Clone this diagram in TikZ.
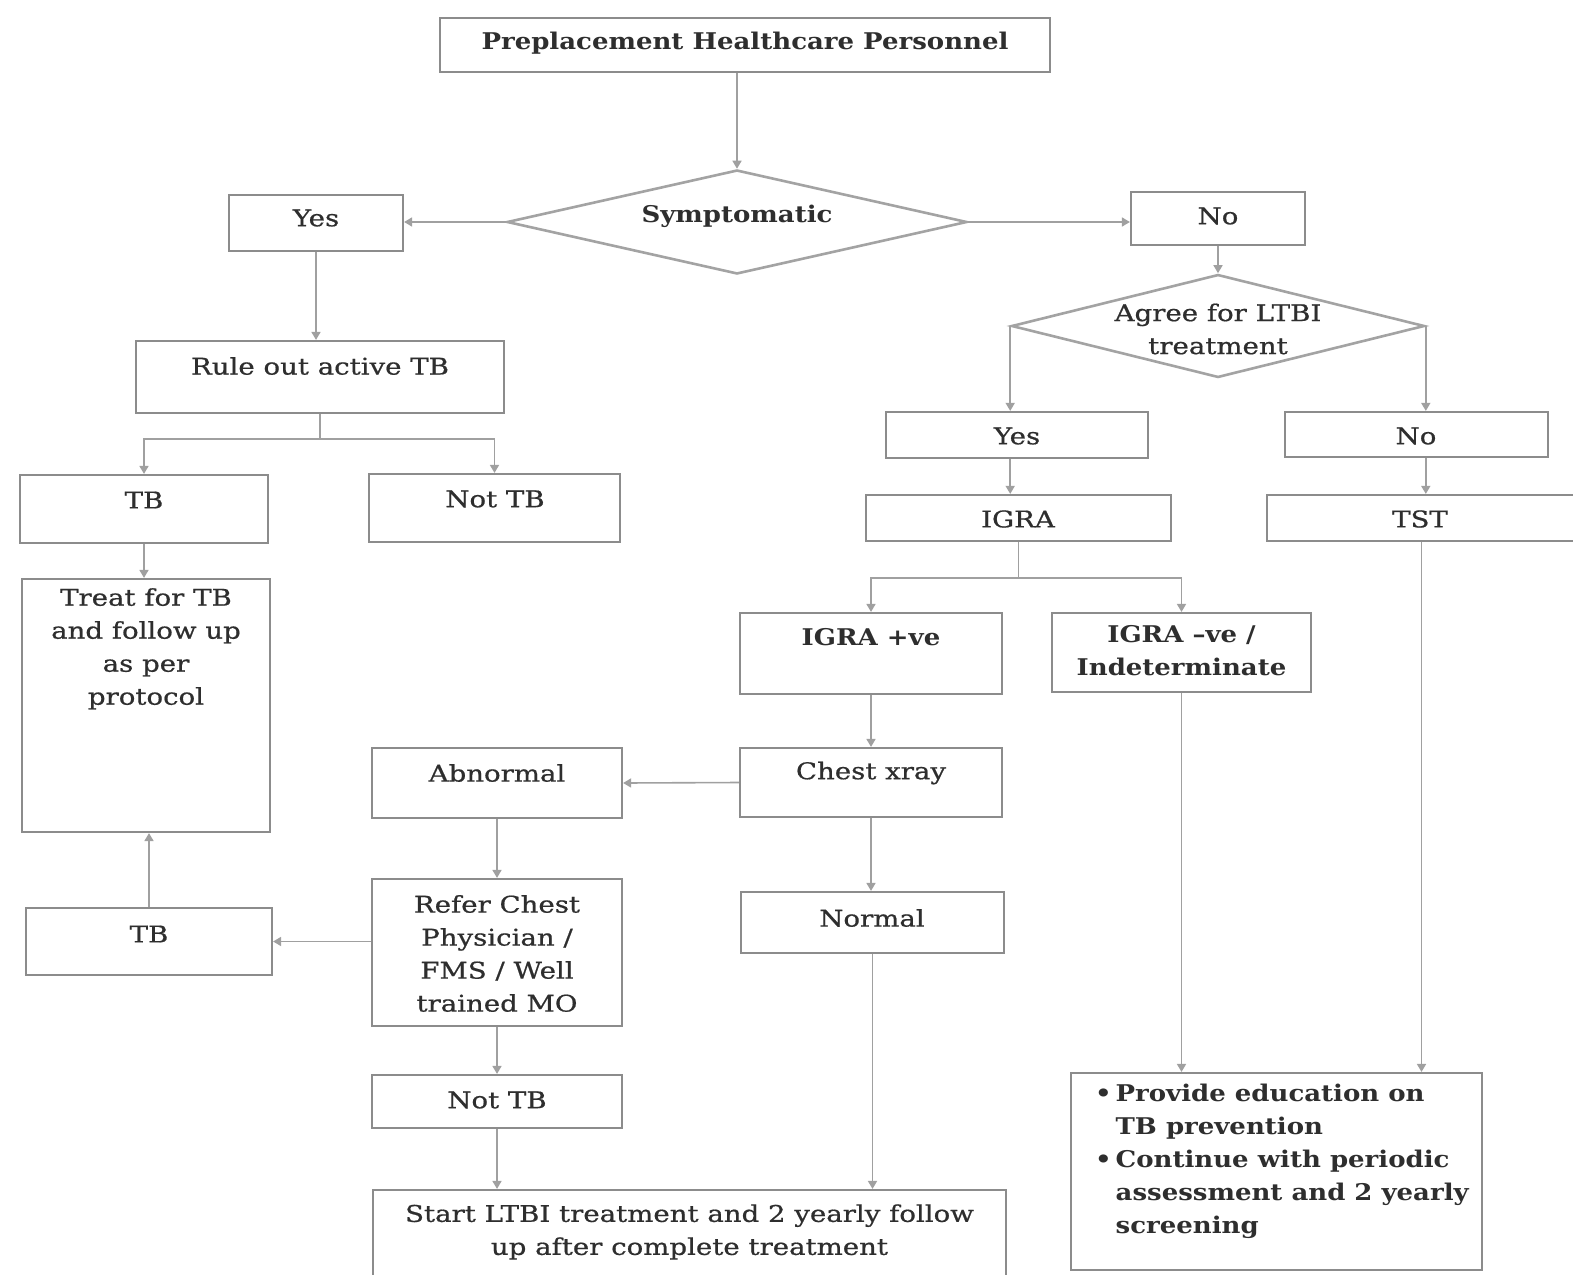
\documentclass[tikz,border=0pt]{standalone}
\usepackage{fontspec}
\setmainfont{DejaVu Serif}[UprightFeatures={FakeStretch=1.2,FakeBold=0.7},BoldFeatures={FakeStretch=1.13}]
\usetikzlibrary{arrows.meta,shapes.geometric,calc}
\definecolor{boxc}{HTML}{8C8C8C}
\definecolor{linec}{HTML}{A0A0A0}
\definecolor{txtc}{HTML}{2E2E2E}
\begin{document}
\begin{tikzpicture}[x=1pt,y=-1pt,
  box/.style={draw=boxc,line width=2.2pt,rectangle,inner sep=0pt},
  dia/.style={draw=boxc!80,line width=2.6pt,diamond,inner sep=0pt},
  txt/.style={text=txtc,align=center,inner sep=0pt,font=\fontsize{23}{33}\selectfont},
  btxt/.style={txt,font=\fontsize{23}{33}\selectfont\bfseries},
  arr/.style={draw=linec,line width=1.6pt,-{Triangle[width=9pt,length=8pt]}},
  ln/.style={draw=linec,line width=1.6pt}]
\useasboundingbox (0,0) rectangle (1573,1274);
\clip (0,0) rectangle (1573,1274);
\fill[white] (0,0) rectangle (1573,1274);

% boxes
\node[box,minimum width=610,minimum height=54] (top) at (745,45) {};
\node[btxt] (topt) at (745,43) {Preplacement Healthcare Personnel};
\node[dia,minimum width=460,minimum height=104] (sym) at (737,222) {};
\node[btxt] (symt) at (737,216) {Symptomatic};
\node[box,minimum width=174,minimum height=56] (yesL) at (316,223) {};
\node[txt] (yesLt) at (316,218) {Yes};
\node[box,minimum width=174,minimum height=53] (noR) at (1218,218.5) {};
\node[txt] (noRt) at (1218,216) {No};
\node[dia,minimum width=413,minimum height=103] (agree) at (1218,326) {};
\node[txt] (agreet) at (1218,329) {Agree for LTBI\\treatment};
\node[box,minimum width=368,minimum height=72] (rule) at (320,377) {};
\node[txt] (rulet) at (320,366) {Rule out active TB};
\node[box,minimum width=248,minimum height=68] (tb1) at (144,509) {};
\node[txt] (tb1t) at (144,500) {TB};
\node[box,minimum width=251,minimum height=68] (nottb1) at (494.5,508) {};
\node[txt] (nottb1t) at (495,499) {Not TB};
\node[box,minimum width=248,minimum height=253] (treat) at (146,705.5) {};
\node[txt,anchor=north] (treatt) at (146,588) {Treat for TB\\and follow up\\as per\\protocol};
\node[box,minimum width=262,minimum height=46] (yesR) at (1017,435) {};
\node[txt] (yesRt) at (1017,436) {Yes};
\node[box,minimum width=263,minimum height=45] (noR2) at (1416.5,434.5) {};
\node[txt] (noR2t) at (1416,436) {No};
\node[box,minimum width=305,minimum height=46] (igra) at (1018.5,518) {};
\node[txt] (igrat) at (1018,519) {IGRA};
\node[box,minimum width=309,minimum height=46] (tst) at (1421.5,518) {};
\node[txt] (tstt) at (1420,519) {TST};
\node[box,minimum width=262,minimum height=81] (igrap) at (871,653.5) {};
\node[btxt] (igrapt) at (871,637) {IGRA +ve};
\node[box,minimum width=259,minimum height=79] (igran) at (1181.5,652.5) {};
\node[btxt] (igrant) at (1181.5,651) {IGRA –ve /\\Indeterminate};
\node[box,minimum width=262,minimum height=69] (chest) at (871,782.5) {};
\node[txt] (chestt) at (871,773) {Chest xray};
\node[box,minimum width=250,minimum height=70] (abn) at (497,783) {};
\node[txt] (abnt) at (497,773) {Abnormal};
\node[box,minimum width=250,minimum height=147] (refer) at (497,952.5) {};
\node[txt] (refert) at (497,953.5) {Refer Chest\\Physician /\\FMS / Well\\trained MO};
\node[box,minimum width=246,minimum height=67] (tb2) at (149,941.5) {};
\node[txt] (tb2t) at (149,934) {TB};
\node[box,minimum width=263,minimum height=61] (normal) at (872.5,922.5) {};
\node[txt] (normalt) at (872,918) {Normal};
\node[box,minimum width=250,minimum height=53] (nottb2) at (497,1101.5) {};
\node[txt] (nottb2t) at (497,1100) {Not TB};
\node[box,minimum width=633,minimum height=100] (start) at (689.5,1240) {};
\node[txt] (startt) at (689.5,1232) {Start LTBI treatment and 2 yearly follow\\up after complete treatment};
\node[box,minimum width=411,minimum height=197] (prov) at (1276.5,1171.5) {};
\node[btxt,align=left,anchor=north west] (provt) at (1095,1084)
  {•\,Provide education on\\\phantom{•\,}TB prevention\\•\,Continue with periodic\\\phantom{•\,}assessment and 2 yearly\\\phantom{•\,}screening};

% connectors
\draw[arr] (sym.north |- top.south) -- (sym.north);
\draw[arr] (sym.west) -- (sym.west -| yesL.east);
\draw[arr] (sym.east) -- (sym.east -| noR.west);
\draw[arr] (yesL.south) -- (yesL.south |- rule.north);
\coordinate (rb) at ($(rule.south)+(0,25)$);
\draw[ln] (rule.south) -- (rb);
\draw[arr] (rb) -| (tb1.north);
\draw[arr] (rb) -| (nottb1.north);
\draw[arr] (tb1.south) -- (tb1.south |- treat.north);
\draw[arr] (noR.south) -- (agree.north);
\draw[arr] (agree.west) -- (agree.west |- yesR.north);
\draw[arr] (agree.east) -- (agree.east |- noR2.north);
\draw[arr] (agree.west |- yesR.south) -- (agree.west |- igra.north);
\draw[arr] (agree.east |- noR2.south) -- (agree.east |- tst.north);
\coordinate (ib) at ($(igra.south)+(0,36)$);
\draw[ln] (igra.south) -- (ib);
\draw[arr] (ib) -| (igrap.north);
\draw[arr] (ib) -| (igran.north);
\draw[arr] (igrap.south) -- (chest.north);
\draw[arr] (chest.west) -- (abn.east);
\draw[arr] (chest.south) -- (chest.south |- normal.north);
\draw[arr] (abn.south) -- (refer.north);
\draw[arr] (tb2.east -| refer.west) -- (tb2.east);
\draw[arr] (tb2.north) -- (tb2.north |- treat.south);
\draw[arr] (refer.south) -- (nottb2.north);
\draw[arr] (nottb2.south) -- (nottb2.south |- start.north);
\draw[arr] (normal.south) -- (normal.south |- start.north);
\draw[arr] (igran.south) -- (igran.south |- prov.north);
\draw[arr] (tst.south) -- (tst.south |- prov.north);
\end{tikzpicture}
\end{document}
